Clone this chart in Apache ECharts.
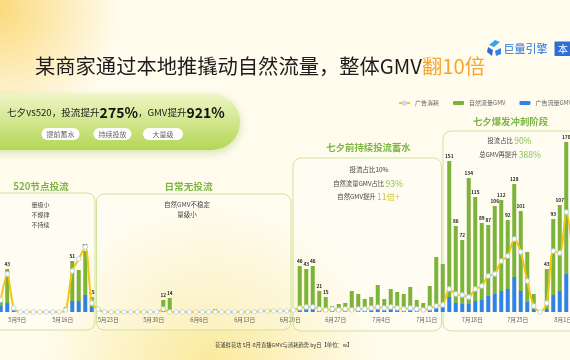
<!DOCTYPE html>
<html><head><meta charset="utf-8">
<script src="https://cdn.jsdelivr.net/npm/echarts@6/dist/echarts.min.js"></script>
<style>html,body{margin:0;padding:0;background:#fffcee}#c{width:570px;height:360px}</style>
</head><body><div id="c"></div>
<script>
const categories = [
'5月6日','5月7日','5月8日','5月9日','5月10日','5月11日','5月12日','5月13日','5月14日','5月15日',
'5月16日','5月17日','5月18日','5月19日','5月20日','5月21日','5月22日','5月23日','5月24日','5月25日',
'5月26日','5月27日','5月28日','5月29日','5月30日','5月31日','6月1日','6月2日','6月3日','6月4日',
'6月5日','6月6日','6月7日','6月8日','6月9日','6月10日','6月11日','6月12日','6月13日','6月14日',
'6月15日','6月16日','6月17日','6月18日','6月19日','6月20日','6月21日','6月22日','6月23日','6月24日',
'6月25日','6月26日','6月27日','6月28日','6月29日','6月30日','7月1日','7月2日','7月3日','7月4日',
'7月5日','7月6日','7月7日','7月8日','7月9日','7月10日','7月11日','7月12日','7月13日','7月14日',
'7月15日','7月16日','7月17日','7月18日','7月19日','7月20日','7月21日','7月22日','7月23日','7月24日',
'7月25日','7月26日','7月27日','7月28日','7月29日','7月30日','7月31日','8月1日','8月2日'];
// 自然流量GMV (w)
const naturalGMV = [
6,34,3,0,0,0,0,0,0,0,
5,40,31,44,10,0,0,0,0,0,
0,0,0,0,0,10,14,0,0,0,
0,0,0,3,0,1,0,0,2,1,
2,3,3,2,2,0,43,40,43,18,
13,4,6,7,18,15,11,13,24,11,
20,17,15,22,10,7,23,51,43,136,
77,64,126,104,77,71,88,91,69,93,
80,50,15,0,40,76,86,132,90];
// 广告流量GMV (w)
const adGMV = [
6,9,2,0,0,0,0,0,0,0,
0,11,11,17,5,0,0,0,0,0,
0,0,0,0,0,2,0,0,0,0,
0,0,0,0,0,0,0,0,0,0,
0,0,0,0,0,0,3,3,3,3,
2,2,2,2,3,3,2,2,3,2,
3,3,3,3,2,2,3,4,5,15,
9,8,8,11,12,16,18,21,23,35,
21,10,3,0,3,17,21,38,30];
// 广告消耗
const adSpend = [
12,38,4,0,0,0,0,0,0,0,
2,41,53,65,9,3,0,0,0,0,
0,0,0,0,0,3,0,0,0,0,
0,0,0,0,0,0,0,0,0,0,
1,1,1,1,1,2,4,5,5,3,
2,3,2,3,2,3,3,4,5,4,
5,4,3,4,3,2,4,6,7,23,
18,17,15,23,26,36,38,51,56,73,
60,31,6,0,9,61,59,100,57];
const labeledDays = [1,11,13,14,25,26,46,47,48,49,50,69,70,71,72,73,74,75,76,77,78,79,80,84,85,86,87];
const tickStart = 3, tickStep = 7;

const FF = '"Noto Sans CJK SC","Noto Sans",sans-serif';
const GREEN_T = '#7db544';
function txt(x, y, text, o) {
  o = o || {};
  return {
    type: 'text', x: x, y: y, z: o.z || 20,
    style: Object.assign({
      text: text, fill: o.color || '#444', fontSize: o.size || 6, fontFamily: FF,
      fontWeight: o.weight || 'normal',
      textAlign: o.align || 'center', align: o.align || 'center',
      textVerticalAlign: 'middle', verticalAlign: 'middle'
    }, o.rich ? { rich: o.rich } : {})
  };
}
function box(x, y, w, h) {
  return { type: 'rect', z: 1, shape: { x: x, y: y, width: w, height: h, r: 8 },
    style: { fill: 'rgba(255,255,255,0.22)', stroke: '#cfe39c', lineWidth: 1 } };
}
const hiG = { fontSize: 8.5, fill: '#8cc152', color: '#8cc152', fontFamily: FF };
const base = { fontSize: 6.3, fill: '#444', color: '#444', fontFamily: FF };

const graphics = [
  { type: 'circle', z: 0, shape: { cx: 0, cy: 10, r: 120 },
    style: { fill: { type: 'radial', x: 0.5, y: 0.5, r: 0.5, colorStops: [
      { offset: 0, color: 'rgba(251,216,120,0.95)' }, { offset: 1, color: 'rgba(251,216,120,0)' }] } } },
  { type: 'ellipse', z: 0, shape: { cx: 210, cy: 370, rx: 420, ry: 170 },
    style: { fill: { type: 'radial', x: 0.5, y: 0.5, r: 0.5, colorStops: [
      { offset: 0, color: 'rgba(250,232,150,0.95)' }, { offset: 1, color: 'rgba(250,232,150,0)' }] } } },
  box(-20, 193, 115, 137),
  box(96.5, 194, 194.5, 136),
  box(293, 158, 148.5, 173),
  box(443, 131, 150, 200),
  // pill
  { type: 'rect', z: 5, shape: { x: -30, y: 94, width: 270, height: 56, r: 28 },
    style: { fill: { type: 'linear', x: 0, y: 0, x2: 0, y2: 1, colorStops: [
      { offset: 0, color: '#eef6c4' }, { offset: 1, color: '#b4d655' }] },
      shadowBlur: 10, shadowColor: 'rgba(140,170,50,0.35)', shadowOffsetY: 3 } },
  txt(7, 112.7, '{n|七夕vs520，投流提升}{b|275%}{n|，GMV提升}{b|921%}', { align: 'left', z: 6,
    rich: { n: { fontSize: 9.6, fill: '#222', color: '#222', fontFamily: FF },
            b: { fontSize: 14, fontWeight: 'bold', fill: '#111', color: '#111', fontFamily: FF } } }),
  { type: 'rect', z: 6, shape: { x: 41.5, y: 128, width: 38, height: 12, r: 6 }, style: { fill: '#fff' } },
  { type: 'rect', z: 6, shape: { x: 93.5, y: 128, width: 38, height: 12, r: 6 }, style: { fill: '#fff' } },
  { type: 'rect', z: 6, shape: { x: 143, y: 128, width: 40, height: 12, r: 6 }, style: { fill: '#fff' } },
  txt(60.5, 134, '提前蓄水', { size: 7, color: '#666', z: 7 }),
  txt(112.5, 134, '持续投放', { size: 7, color: '#666', z: 7 }),
  txt(163, 134, '大量级', { size: 7, color: '#666', z: 7 }),
  // title
  txt(35, 66, '{a|某商家通过本地推撬动自然流量，整体GMV}{b|翻10倍}', { align: 'left',
    rich: { a: { fontSize: 20.3, fill: '#1c1c1c', color: '#1c1c1c', fontFamily: FF },
            b: { fontSize: 20.3, fill: '#f6a52a', color: '#f6a52a', fontFamily: FF } } }),
  // logo
  { type: 'polygon', z: 20, shape: { points: [[489, 45], [495, 40], [500, 42], [494, 47]] }, style: { fill: '#3aa3ee' } },
  { type: 'polygon', z: 20, shape: { points: [[488, 47], [493, 50], [492, 56], [487, 52]] }, style: { fill: '#2d6ad3' } },
  { type: 'polygon', z: 20, shape: { points: [[495, 51], [501, 48], [501, 54], [496, 56]] }, style: { fill: '#2f86e4' } },
  txt(503.5, 48.5, '巨量引擎', { align: 'left', size: 11, color: '#2d6fd4' }),
  { type: 'rect', z: 20, shape: { x: 554.5, y: 41.5, width: 20, height: 14.5 }, style: { fill: '#2f6ed6' } },
  txt(558, 49, '本', { align: 'left', size: 10, color: '#ffffff', z: 21 }),
  // section titles
  txt(41, 186, '520节点投流', { size: 9.6, weight: 'bold', color: GREEN_T }),
  txt(188.5, 186, '日常无投流', { size: 9.6, weight: 'bold', color: GREEN_T }),
  txt(368.5, 147, '七夕前持续投流蓄水', { size: 9.4, weight: 'bold', color: GREEN_T }),
  txt(510.5, 121, '七夕爆发冲刺阶段', { size: 9.4, weight: 'bold', color: GREEN_T }),
  // box notes
  txt(40.5, 205, '量级小'), txt(40.5, 215, '不规律'), txt(40.5, 224.5, '不持续'),
  txt(187, 205, '自然GMV不稳定', { size: 6.5 }), txt(187, 215, '量级小', { size: 6.5 }),
  txt(369, 169.3, '投流占比10%', { size: 6.5 }),
  txt(368, 183.3, '{n|自然流量GMV占比 }{h|93%}', { rich: { n: base, h: hiG } }),
  txt(368.5, 197, '{n|自然GMV提升 }{h|11倍+}', { rich: { n: base, h: Object.assign({}, hiG, { fill: '#d2c23c', color: '#d2c23c' }) } }),
  txt(509.5, 141, '{n|投流占比 }{h|90%}', { rich: { n: base, h: hiG } }),
  txt(510, 155, '{n|总GMV再提升 }{h|388%}', { rich: { n: base, h: hiG } }),
  // footnote
  txt(215, 345, '花涌鲜花坊 5月-8月直播GMV与消耗趋势 by日【单位：w】', { align: 'left', size: 5.3, color: '#333' })
];

const chart = echarts.init(document.getElementById('c'), null, { renderer: 'canvas' });
chart.setOption({
  backgroundColor: '#fffcee',
  animation: false,
  textStyle: { fontFamily: FF },
  graphic: { elements: graphics },
  legend: {
    left: 393, top: 95, width: 400, itemWidth: 11, itemHeight: 4, itemGap: 14,
    textStyle: { fontSize: 6, color: '#666', fontFamily: FF },
    data: ['广告消耗', '自然流量GMV', '广告流量GMV']
  },
  grid: { left: -2.5, right: -6, top: 132, bottom: 48, containLabel: false, outerBoundsMode: 'none' },
  xAxis: {
    type: 'category', data: categories, boundaryGap: true,
    axisLine: { show: false }, axisTick: { show: false },
    axisLabel: {
      interval: (i) => (i - tickStart) % tickStep === 0,
      fontSize: 5.8, color: '#333', margin: 5, padding: [0, 6, 0, 0], fontFamily: FF
    }
  },
  yAxis: { type: 'value', min: 0, max: 180, show: false, splitLine: { show: false } },
  series: [
    { name: '广告流量GMV', type: 'bar', stack: 'gmv', data: adGMV, barWidth: 4,
      itemStyle: { color: '#2f83e6' } },
    { name: '自然流量GMV', type: 'bar', stack: 'gmv', data: naturalGMV, barWidth: 4,
      itemStyle: { color: '#7cb33a' },
      label: { show: true, position: 'top', distance: 2, fontSize: 4.8, fontWeight: 'bold', color: '#222',
        formatter: (p) => labeledDays.includes(p.dataIndex) ? String(naturalGMV[p.dataIndex] + adGMV[p.dataIndex]) : '' } },
    { name: '广告消耗', type: 'line', data: adSpend, smooth: 0.3, z: 4,
      lineStyle: { color: '#f6c511', width: 2 },
      symbol: 'circle', symbolSize: 4.5, showAllSymbol: true,
      itemStyle: { color: '#ffffff', borderColor: '#c5d9e8', borderWidth: 1 } }
  ]
});
</script></body></html>
